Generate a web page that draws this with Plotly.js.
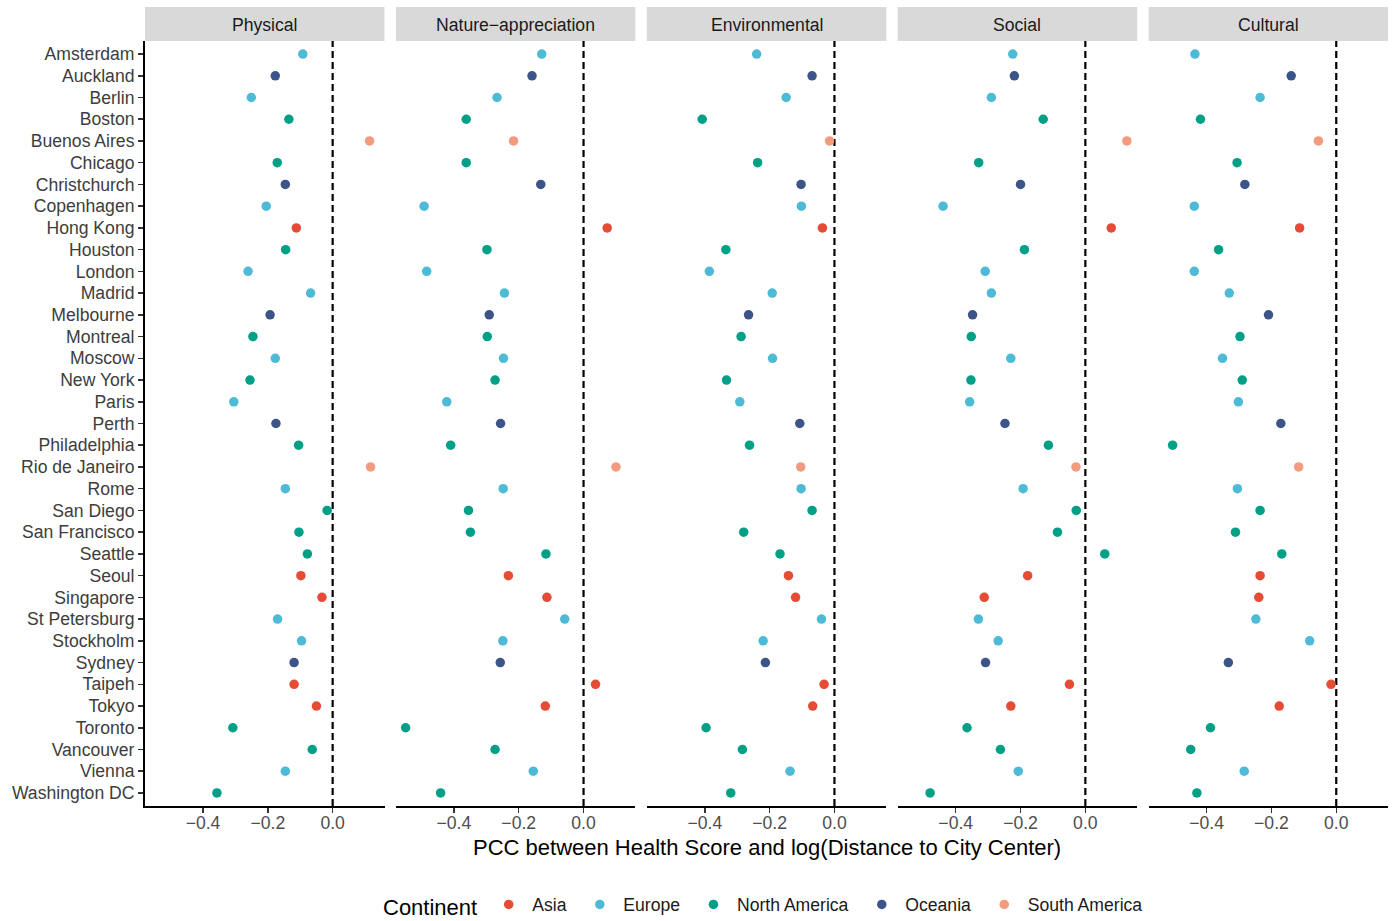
<!DOCTYPE html>
<html>
<head>
<meta charset="utf-8">
<script src="https://cdn.plot.ly/plotly-3.0.1.min.js"></script>
<style>html,body{margin:0;padding:0;background:#fff;}#chart{width:1396px;height:921px;}</style>
</head>
<body>
<div id="chart"></div>
<script>
const cities = ['Amsterdam','Auckland','Berlin','Boston','Buenos Aires','Chicago','Christchurch','Copenhagen','Hong Kong','Houston','London','Madrid','Melbourne','Montreal','Moscow','New York','Paris','Perth','Philadelphia','Rio de Janeiro','Rome','San Diego','San Francisco','Seattle','Seoul','Singapore','St Petersburg','Stockholm','Sydney','Taipeh','Tokyo','Toronto','Vancouver','Vienna','Washington DC'];
const continent = ['Europe','Oceania','Europe','North America','South America','North America','Oceania','Europe','Asia','North America','Europe','Europe','Oceania','North America','Europe','North America','Europe','Oceania','North America','South America','Europe','North America','North America','North America','Asia','Asia','Europe','Europe','Oceania','Asia','Asia','North America','North America','Europe','North America'];
const physical = [-0.092,-0.177,-0.251,-0.135,0.114,-0.171,-0.146,-0.205,-0.112,-0.145,-0.261,-0.068,-0.193,-0.246,-0.177,-0.255,-0.305,-0.175,-0.105,0.117,-0.146,-0.017,-0.104,-0.078,-0.098,-0.033,-0.170,-0.096,-0.119,-0.119,-0.050,-0.308,-0.063,-0.146,-0.357];
const nature = [-0.129,-0.159,-0.267,-0.362,-0.216,-0.362,-0.132,-0.492,0.073,-0.298,-0.484,-0.244,-0.291,-0.297,-0.247,-0.273,-0.422,-0.256,-0.410,0.100,-0.248,-0.355,-0.349,-0.116,-0.232,-0.113,-0.058,-0.249,-0.257,0.037,-0.118,-0.549,-0.273,-0.155,-0.441];
const environmental = [-0.240,-0.069,-0.149,-0.408,-0.015,-0.237,-0.103,-0.102,-0.037,-0.335,-0.386,-0.192,-0.265,-0.288,-0.191,-0.333,-0.292,-0.107,-0.262,-0.104,-0.103,-0.069,-0.280,-0.168,-0.142,-0.120,-0.040,-0.220,-0.213,-0.032,-0.067,-0.396,-0.284,-0.137,-0.320];
const social = [-0.224,-0.219,-0.290,-0.130,0.128,-0.329,-0.200,-0.439,0.080,-0.188,-0.309,-0.290,-0.348,-0.352,-0.230,-0.353,-0.357,-0.248,-0.114,-0.029,-0.192,-0.028,-0.086,0.060,-0.178,-0.312,-0.330,-0.269,-0.308,-0.049,-0.230,-0.365,-0.262,-0.207,-0.479];
const cultural = [-0.436,-0.139,-0.235,-0.419,-0.055,-0.306,-0.282,-0.438,-0.113,-0.363,-0.438,-0.330,-0.209,-0.297,-0.351,-0.290,-0.302,-0.171,-0.505,-0.116,-0.305,-0.235,-0.311,-0.168,-0.235,-0.239,-0.248,-0.082,-0.333,-0.016,-0.176,-0.388,-0.449,-0.284,-0.430];
const facetNames = ['Physical','Nature\u2212appreciation','Environmental','Social','Cultural'];
const facetValues = [physical, nature, environmental, social, cultural];
const continents = ['Asia','Europe','North America','Oceania','South America'];
const continentColors = ['#E64B35','#4DBBD5','#00A087','#3C5488','#F39B7F'];
const tickVals = [-0.4,-0.2,0];
const tickText = ['\u22120.4','\u22120.2','0.0'];

const W = 1396, H = 921;
const FONT = 'Liberation Sans, Arial, Helvetica, sans-serif';
const plotTop = 41, plotBottom = 806, stripTop = 7;
const yDom = [1 - plotBottom / H, 1 - plotTop / H];
const panelStart = 145, panelWidth = 239.5, panelStep = 250.9;

const traces = [];
const layout = {
  width: W, height: H,
  margin: {l: 0, r: 0, t: 0, b: 0, autoexpand: false},
  paper_bgcolor: '#ffffff', plot_bgcolor: '#ffffff',
  font: {family: FONT, color: '#1a1a1a'},
  showlegend: true,
  legend: {
    orientation: 'h', x: 381 / W, xanchor: 'left', y: 1 - 906 / H, yanchor: 'middle',
    title: {text: 'Continent', font: {size: 22, color: '#000'}, side: 'left'},
    font: {size: 17.6, color: '#1a1a1a'}, valign: 'middle',
    itemwidth: 37, bgcolor: 'rgba(0,0,0,0)'
  },
  yaxis: {
    domain: yDom, anchor: 'x', type: 'category', categoryorder: 'array', categoryarray: cities,
    range: [cities.length - 0.4, -0.6], showline: true, linecolor: '#000', linewidth: 2,
    ticks: 'outside', ticklen: 5, tickwidth: 1.5, tickcolor: '#333', ticklabelstandoff: 0,
    tickfont: {size: 17.6, color: '#3d3d3d', family: FONT}, showgrid: false, zeroline: false, fixedrange: true
  },
  shapes: [], annotations: []
};

facetNames.forEach((name, i) => {
  const ax = i === 0 ? 'x' : 'x' + (i + 1);
  const axKey = i === 0 ? 'xaxis' : 'xaxis' + (i + 1);
  const x0 = panelStart + i * panelStep, x1 = x0 + panelWidth;
  layout[axKey] = {
    domain: [x0 / W, x1 / W], anchor: 'y', range: [-0.579, 0.160],
    tickvals: tickVals, ticktext: tickText, showline: true, linecolor: '#000', linewidth: 2,
    ticks: 'outside', ticklen: 5, tickwidth: 1.5, tickcolor: '#333', ticklabelstandoff: -5,
    tickfont: {size: 17.6, color: '#4d4d4d', family: FONT}, showgrid: false, zeroline: false, fixedrange: true
  };
  layout.shapes.push({type: 'line', xref: ax, yref: 'paper', x0: 0, x1: 0, y0: yDom[0], y1: yDom[1],
    line: {color: '#000', width: 2.2, dash: '7px,4px'}, layer: 'below'});
  layout.shapes.push({type: 'rect', xref: 'paper', yref: 'paper', x0: x0 / W, x1: x1 / W,
    y0: 1 - plotTop / H, y1: 1 - stripTop / H, fillcolor: '#D9D9D9', line: {width: 0}});
  layout.annotations.push({xref: 'paper', yref: 'paper', x: (x0 + x1) / 2 / W, y: 1 - 25 / H,
    text: name, showarrow: false, xanchor: 'center', yanchor: 'middle',
    font: {size: 17.6, color: '#1a1a1a', family: FONT}});
  continents.forEach((c, k) => {
    const xs = [], ys = [];
    cities.forEach((city, j) => { if (continent[j] === c) { xs.push(facetValues[i][j]); ys.push(city); } });
    traces.push({
      type: 'scatter', mode: 'markers', x: xs, y: ys, xaxis: ax, yaxis: 'y',
      name: c + '\u00a0', legendgroup: c, showlegend: i === 0,
      marker: {color: continentColors[k], size: 9.5, line: {width: 0}},
      hoverinfo: 'x+y+name'
    });
  });
});

layout.annotations.push({xref: 'paper', yref: 'paper', x: (panelStart + 4 * panelStep + panelWidth + panelStart) / 2 / W,
  y: 1 - 847 / H, text: 'PCC between Health Score and log(Distance to City Center)', showarrow: false,
  xanchor: 'center', yanchor: 'middle', font: {size: 22, color: '#000', family: FONT}});

Plotly.newPlot('chart', traces, layout, {displayModeBar: false, staticPlot: true});
</script>
</body>
</html>
